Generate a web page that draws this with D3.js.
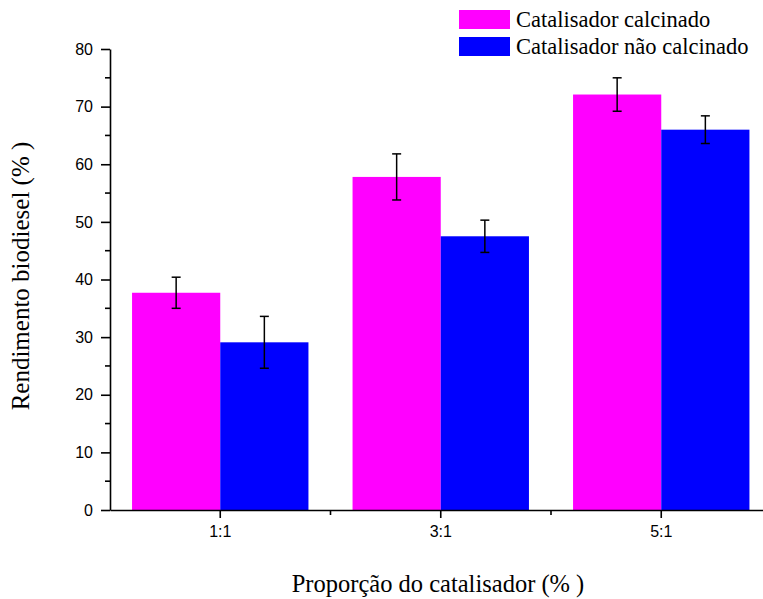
<!DOCTYPE html>
<html>
<head>
<meta charset="utf-8">
<script src="https://cdn.jsdelivr.net/npm/d3@7"></script>
<style>
  html, body { margin: 0; padding: 0; background: #fff; }
  svg { display: block; }
</style>
</head>
<body>
<svg id="chart" width="763" height="599"></svg>
<script>
// Biodiesel yield by catalyst proportion, calcined vs. non-calcined catalyst
const categories = ["1:1", "3:1", "5:1"];
const seriesNames = ["Catalisador calcinado", "Catalisador não calcinado"];
const calcinado = [37.7, 57.8, 72.1];
const calcinadoErr = [2.7, 4.0, 2.9];
const naoCalcinado = [29.1, 47.5, 66.0];
const naoCalcinadoErr = [4.5, 2.8, 2.4];
const yTicks = [0, 10, 20, 30, 40, 50, 60, 70, 80];
const colors = ["#ff00ff", "#0000ff"];

const series = [
  { name: seriesNames[0], values: calcinado, errs: calcinadoErr, color: colors[0] },
  { name: seriesNames[1], values: naoCalcinado, errs: naoCalcinadoErr, color: colors[1] }
];

const serif = "'Liberation Serif', 'Times New Roman', serif";
const sans = "'Liberation Sans', Arial, sans-serif";

const svg = d3.select("#chart");
const margin = { left: 110, top: 49, bottom: 510 };
const plotRight = 771.5;

const x0 = d3.scaleBand().domain(categories).range([margin.left, plotRight]).padding(0);
const x1 = d3.scaleBand().domain(d3.range(series.length))
  .range([x0.bandwidth() * 0.1, x0.bandwidth() * 0.9]).padding(0);
const y = d3.scaleLinear().domain([0, 80]).range([margin.bottom, margin.top]);

// bars
const groups = svg.append("g").selectAll("g")
  .data(categories)
  .join("g")
  .attr("transform", d => `translate(${x0(d)},0)`);

groups.selectAll("rect")
  .data((c, i) => series.map((s, si) => ({ si, v: s.values[i], color: s.color })))
  .join("rect")
  .attr("x", d => x1(d.si))
  .attr("width", x1.bandwidth())
  .attr("y", d => y(d.v))
  .attr("height", d => y(0) - y(d.v))
  .attr("fill", d => d.color);

// error bars
const capHalf = 4.5;
groups.each(function (c, i) {
  const g = d3.select(this);
  series.forEach((s, si) => {
    const cx = x1(si) + x1.bandwidth() / 2;
    const top = y(s.values[i] + s.errs[i]);
    const bot = y(s.values[i] - s.errs[i]);
    const eg = g.append("g").attr("stroke", "#000").attr("stroke-width", 1.5).attr("fill", "none");
    eg.append("line").attr("x1", cx).attr("x2", cx).attr("y1", top).attr("y2", bot);
    eg.append("line").attr("x1", cx - capHalf).attr("x2", cx + capHalf).attr("y1", top).attr("y2", top);
    eg.append("line").attr("x1", cx - capHalf).attr("x2", cx + capHalf).attr("y1", bot).attr("y2", bot);
  });
});

// y axis with minor ticks
const yAxis = svg.append("g").attr("transform", `translate(${margin.left},0)`);
yAxis.call(d3.axisLeft(y).tickValues(yTicks).tickSize(9).tickSizeOuter(0).tickPadding(8));
yAxis.append("g").selectAll("line")
  .data(d3.range(5, 80, 10))
  .join("line")
  .attr("x1", -5).attr("x2", 0)
  .attr("y1", d => y(d)).attr("y2", d => y(d))
  .attr("stroke", "#000").attr("stroke-width", 1.6);

// x axis with minor ticks between categories
const xAxis = svg.append("g").attr("transform", `translate(0,${margin.bottom})`);
xAxis.call(d3.axisBottom(x0).tickSize(8).tickSizeOuter(0).tickPadding(8));
xAxis.append("g").selectAll("line")
  .data(categories.slice(1))
  .join("line")
  .attr("x1", d => x0(d)).attr("x2", d => x0(d))
  .attr("y1", 0).attr("y2", 5)
  .attr("stroke", "#000").attr("stroke-width", 1.6);

[yAxis, xAxis].forEach(a => {
  a.selectAll(".domain, .tick line").attr("stroke", "#000").attr("stroke-width", 1.6);
  a.selectAll("text").attr("font-family", sans)
    .attr("font-size", 16).attr("fill", "#000");
});

// axis titles
svg.append("text")
  .attr("transform", "translate(29,276) rotate(-90)")
  .attr("text-anchor", "middle")
  .attr("font-family", serif)
  .attr("font-size", 25)
  .text("Rendimento biodiesel (% )");

svg.append("text")
  .attr("x", 438).attr("y", 592)
  .attr("text-anchor", "middle")
  .attr("font-family", serif)
  .attr("font-size", 24.5)
  .text("Proporção do catalisador (% )");

// legend
const legend = svg.append("g").attr("transform", "translate(459,10)");
series.forEach((s, i) => {
  const row = legend.append("g").attr("transform", `translate(0,${i * 27})`);
  row.append("rect").attr("width", 51).attr("height", 19).attr("fill", s.color);
  row.append("text").attr("x", 57).attr("y", 17)
    .attr("font-family", serif)
    .attr("font-size", 22.5)
    .text(s.name);
});
</script>
</body>
</html>
